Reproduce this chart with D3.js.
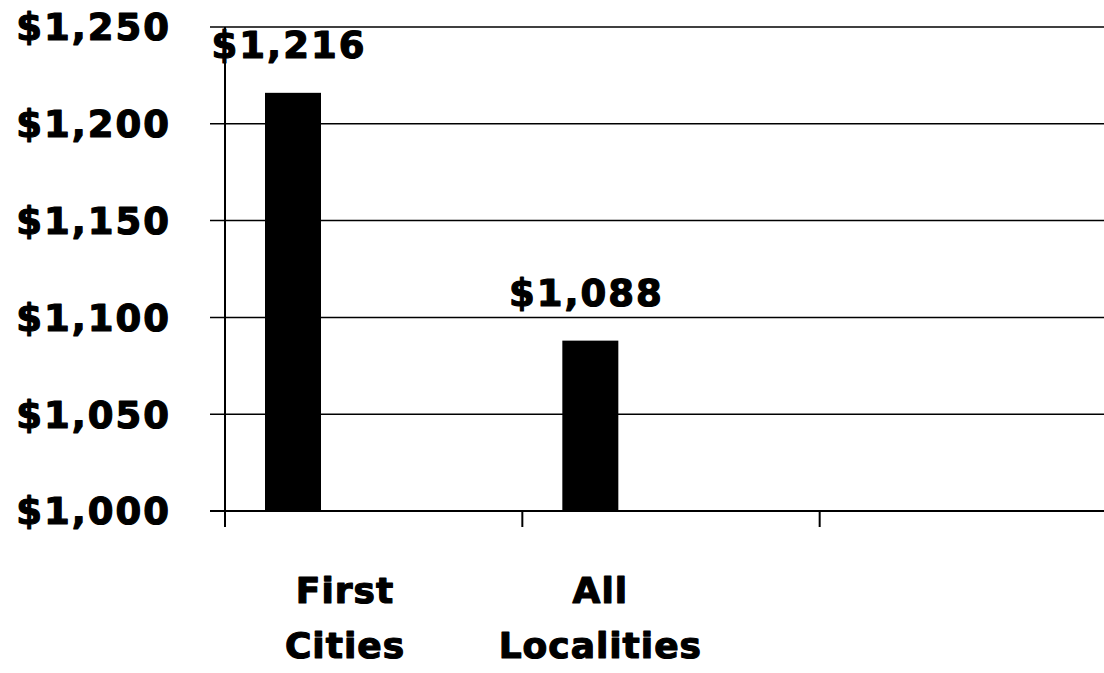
<!DOCTYPE html>
<html>
<head>
<meta charset="utf-8">
<script src="https://cdn.jsdelivr.net/npm/d3@7"></script>
<style>
  html, body { margin: 0; padding: 0; background: #fff; }
  svg { display: block; }
  text { font-family: "DejaVu Sans", "Liberation Sans", sans-serif; font-weight: bold; fill: #000; stroke: #000; stroke-width: 1.2px; stroke-linejoin: round; }
</style>
</head>
<body>
<svg id="chart" width="1104" height="673"></svg>
<script>
// Average amounts by locality group
const categories = ["First Cities", "All Localities", ""];
const categoryLines = [["First", "Cities"], ["All", "Localities"], []];
const values = [1216, 1088, null];
const valueLabels = ["$1,216", "$1,088", ""];
const yTicks = [1000, 1050, 1100, 1150, 1200, 1250];

const svg = d3.select("#chart");

const plotLeft = 225, plotRight = 1117, plotTop = 27, plotBottom = 511;

const x = d3.scaleBand().domain(categories).range([plotLeft, plotRight]).paddingInner(0).paddingOuter(0);
const y = d3.scaleLinear().domain([1000, 1250]).range([plotBottom, plotTop]);

const fmt = d => "$" + d3.format(",")(d);

// horizontal gridlines
svg.append("g")
  .selectAll("line")
  .data(yTicks)
  .join("line")
  .attr("x1", plotLeft - 15)
  .attr("x2", 1104)
  .attr("y1", d => y(d))
  .attr("y2", d => y(d))
  .attr("stroke", "#000")
  .attr("stroke-width", d => d === 1000 ? 2 : 1.5);

// y tick labels
svg.append("g")
  .selectAll("text")
  .data(yTicks)
  .join("text")
  .attr("x", 171)
  .attr("y", d => y(d))
  .attr("dy", "0.36em")
  .attr("text-anchor", "end")
  .style("font-size", "37px")
  .style("letter-spacing", "2px")
  .text(fmt);

// bars
const barOffset = 40, barWidth = 56;
const barData = categories.map((c, i) => ({ c, v: values[i], label: valueLabels[i] })).filter(d => d.v != null);

svg.append("g")
  .selectAll("rect")
  .data(barData)
  .join("rect")
  .attr("x", d => x(d.c) + barOffset)
  .attr("width", barWidth)
  .attr("y", d => y(d.v))
  .attr("height", d => y(1000) - y(d.v))
  .attr("fill", "#000");

// value labels above bars
svg.append("g")
  .selectAll("text")
  .data(barData)
  .join("text")
  .attr("x", d => x(d.c) + barOffset + barWidth / 2 - 4)
  .attr("y", d => y(d.v) - 35)
  .attr("text-anchor", "middle")
  .style("font-size", "37px")
  .style("letter-spacing", "2px")
  .text(d => d.label);

// y axis line
svg.append("line")
  .attr("x1", plotLeft).attr("x2", plotLeft)
  .attr("y1", plotTop).attr("y2", plotBottom + 16)
  .attr("stroke", "#000").attr("stroke-width", 2);

// category ticks
svg.append("g")
  .selectAll("line")
  .data(categories.slice(1))
  .join("line")
  .attr("x1", d => x(d)).attr("x2", d => x(d))
  .attr("y1", plotBottom).attr("y2", plotBottom + 16)
  .attr("stroke", "#000").attr("stroke-width", 2);

// category labels (two lines each)
const labelShift = [120, 78, 0];
const catG = svg.append("g")
  .selectAll("text")
  .data(categories.map((c, i) => ({ c, lines: categoryLines[i], dx: labelShift[i] })))
  .join("text")
  .attr("text-anchor", "middle")
  .style("font-size", "36px")
  .style("letter-spacing", "1px");

catG.selectAll("tspan")
  .data(d => d.lines.map((l, j) => ({ l, j, xc: x(d.c) + d.dx })))
  .join("tspan")
  .attr("x", t => t.xc)
  .attr("y", t => 603 + t.j * 55)
  .text(t => t.l);
</script>
</body>
</html>
